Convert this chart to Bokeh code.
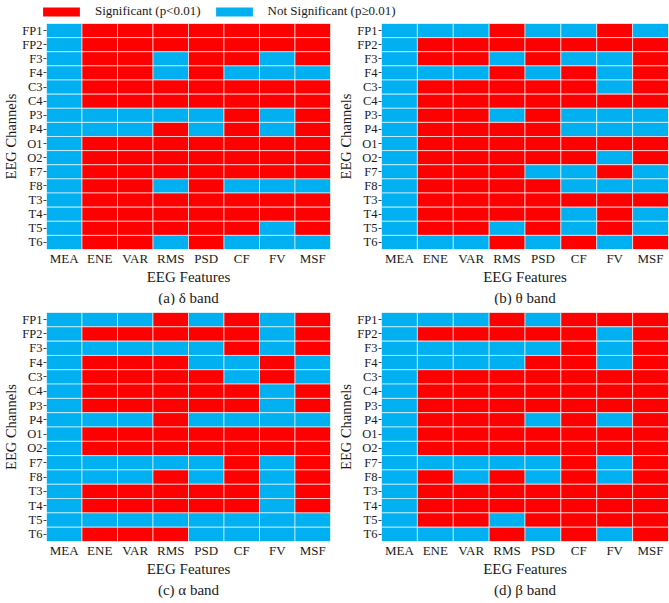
from bokeh.plotting import figure
from bokeh.models import ColumnDataSource, FactorRange, Range1d, Title, Legend, LegendItem
from bokeh.layouts import column, row
from bokeh.embed import file_html
from bokeh.resources import INLINE

features = ["MEA", "ENE", "VAR", "RMS", "PSD", "CF", "FV", "MSF"]
channels = ["FP1", "FP2", "F3", "F4", "C3", "C4", "P3", "P4",
            "O1", "O2", "F7", "F8", "T3", "T4", "T5", "T6"]

# 1 = Significant (p<0.01), 0 = Not significant
delta_band = [
    [0, 1, 1, 1, 1, 1, 1, 1],
    [0, 1, 1, 1, 1, 1, 1, 1],
    [0, 1, 1, 0, 1, 1, 0, 1],
    [0, 1, 1, 0, 1, 0, 0, 0],
    [0, 1, 1, 1, 1, 1, 1, 1],
    [0, 1, 1, 1, 1, 1, 1, 1],
    [0, 0, 0, 0, 0, 1, 0, 1],
    [0, 0, 0, 1, 0, 1, 0, 1],
    [0, 1, 1, 1, 1, 1, 1, 1],
    [0, 1, 1, 1, 1, 1, 1, 1],
    [0, 1, 1, 1, 1, 1, 1, 1],
    [0, 1, 1, 0, 1, 0, 0, 0],
    [0, 1, 1, 1, 1, 1, 1, 1],
    [0, 1, 1, 1, 1, 1, 1, 1],
    [0, 1, 1, 1, 1, 1, 0, 1],
    [0, 1, 1, 0, 1, 0, 0, 0],
]
theta_band = [
    [0, 0, 0, 1, 0, 0, 1, 0],
    [0, 1, 1, 1, 1, 1, 1, 1],
    [0, 1, 1, 0, 1, 0, 0, 1],
    [0, 0, 0, 1, 0, 1, 0, 1],
    [0, 1, 1, 1, 1, 1, 0, 1],
    [0, 1, 1, 1, 1, 1, 1, 1],
    [0, 1, 1, 0, 1, 0, 0, 0],
    [0, 1, 1, 1, 1, 0, 0, 0],
    [0, 1, 1, 1, 1, 1, 1, 1],
    [0, 1, 1, 1, 1, 1, 0, 1],
    [0, 1, 1, 1, 0, 0, 1, 0],
    [0, 1, 1, 1, 1, 0, 0, 0],
    [0, 1, 1, 1, 1, 1, 1, 1],
    [0, 1, 1, 1, 1, 0, 1, 0],
    [0, 1, 1, 0, 1, 0, 1, 0],
    [0, 0, 0, 1, 0, 1, 0, 1],
]
alpha_band = [
    [0, 0, 0, 1, 0, 1, 0, 1],
    [0, 1, 1, 1, 1, 1, 0, 1],
    [0, 0, 0, 0, 0, 1, 0, 1],
    [0, 1, 1, 1, 0, 0, 1, 0],
    [0, 1, 1, 1, 1, 0, 1, 0],
    [0, 1, 1, 1, 1, 1, 0, 1],
    [0, 1, 1, 1, 1, 1, 0, 1],
    [0, 0, 0, 1, 0, 0, 0, 0],
    [0, 1, 1, 1, 1, 1, 1, 1],
    [0, 1, 1, 1, 1, 1, 1, 1],
    [0, 0, 0, 0, 0, 1, 0, 1],
    [0, 0, 0, 1, 0, 1, 0, 1],
    [0, 1, 1, 1, 1, 1, 0, 1],
    [0, 1, 1, 1, 1, 1, 0, 1],
    [0, 0, 0, 0, 0, 0, 0, 0],
    [0, 1, 1, 1, 0, 0, 0, 0],
]
beta_band = [
    [0, 0, 0, 1, 0, 1, 1, 1],
    [0, 1, 1, 1, 1, 1, 0, 1],
    [0, 0, 0, 0, 0, 1, 0, 1],
    [0, 0, 0, 0, 1, 1, 0, 1],
    [0, 1, 1, 1, 1, 1, 1, 1],
    [0, 1, 1, 1, 1, 1, 1, 1],
    [0, 1, 1, 1, 1, 1, 1, 1],
    [0, 1, 1, 1, 0, 1, 0, 1],
    [0, 1, 1, 1, 1, 1, 1, 1],
    [0, 1, 1, 1, 1, 1, 1, 1],
    [0, 0, 0, 0, 0, 1, 0, 1],
    [0, 1, 0, 1, 0, 1, 0, 1],
    [0, 1, 1, 1, 1, 1, 1, 1],
    [0, 1, 1, 1, 1, 1, 1, 1],
    [0, 1, 1, 0, 1, 1, 1, 1],
    [0, 0, 0, 1, 0, 1, 0, 1],
]
captions = ["(a) δ band", "(b) θ band", "(c) α band", "(d) β band"]
legend_labels = ["Significant (p<0.01)", "Not Significant (p≥0.01)"]

RED = "#FF0000"
BLUE = "#00B0F0"
FONT = "'Liberation Serif', 'Times New Roman', serif"
INK = "#1a1a1a"


def make_panel(matrix, caption, width, height, left, right, top, bottom):
    xs, ys, cols = [], [], []
    for i, ch in enumerate(channels):
        for j, ft in enumerate(features):
            xs.append(ft)
            ys.append(ch)
            cols.append(RED if matrix[i][j] == 1 else BLUE)
    src = ColumnDataSource(dict(x=xs, y=ys, c=cols))
    p = figure(width=width, height=height,
               x_range=FactorRange(*features),
               y_range=FactorRange(*list(reversed(channels))),
               output_backend="svg", toolbar_location=None,
               min_border_left=left, min_border_right=right,
               min_border_top=top, min_border_bottom=bottom)
    p.rect(x="x", y="y", width=1, height=1, source=src,
           fill_color="c", line_color="white", line_alpha=0.6, line_width=1)
    p.grid.visible = False
    p.outline_line_color = None
    for ax in (p.xaxis[0], p.yaxis[0]):
        ax.axis_line_color = None
        ax.major_label_text_font = FONT
        ax.major_label_text_font_size = "13px"
        ax.major_label_text_color = INK
        ax.axis_label_text_font = FONT
        ax.axis_label_text_font_size = "15px"
        ax.axis_label_text_font_style = "normal"
        ax.axis_label_text_color = INK
    p.yaxis.major_label_text_font_size = "12.5px"
    p.yaxis.axis_label_text_font_size = "14.5px"
    p.xaxis.major_tick_line_color = None
    p.xaxis.major_tick_out = 0
    p.xaxis.major_tick_in = 0
    p.xaxis.major_label_standoff = 1
    p.xaxis.axis_label = "EEG Features"
    p.xaxis.axis_label_standoff = 0
    p.yaxis.major_tick_out = 3
    p.yaxis.major_tick_in = 0
    p.yaxis.major_tick_line_color = "#444444"
    p.yaxis.major_label_standoff = 1
    p.yaxis.axis_label = "EEG Channels"
    p.yaxis.axis_label_standoff = 0
    t = Title(text=caption, align="center", text_font=FONT,
              text_font_size="15px", text_font_style="normal",
              text_color=INK, standoff=0, offset=0)
    p.add_layout(t, "below")
    return p


pa = make_panel(delta_band, captions[0], 335, 285, 43, 5, 3, 55)
pb = make_panel(theta_band, captions[1], 334, 285, 46, 1, 3, 55)
pc = make_panel(alpha_band, captions[2], 335, 298, 43, 5, 7, 62)
pd_ = make_panel(beta_band, captions[3], 334, 298, 46, 1, 7, 62)

# legend strip (swatch glyphs parked outside the visible range)
lg = figure(width=669, height=20, x_range=Range1d(0, 1), y_range=Range1d(0, 1),
            output_backend="svg", toolbar_location=None,
            min_border=0, outline_line_color=None)
lg.axis.visible = False
lg.grid.visible = False
r1 = lg.rect(x=[-10], y=[-10], width=1, height=1, fill_color=RED, line_color=None)
r2 = lg.rect(x=[-10], y=[-10], width=1, height=1, fill_color=BLUE, line_color=None)
legend = Legend(items=[LegendItem(label=legend_labels[0], renderers=[r1]),
                       LegendItem(label=legend_labels[1], renderers=[r2])],
                orientation="horizontal", location=(38, 1),
                glyph_width=46, glyph_height=11, label_standoff=11, spacing=10,
                padding=0, margin=0, border_line_color=None,
                background_fill_alpha=0,
                label_text_font=FONT, label_text_font_size="13px",
                label_text_color=INK, label_height=14)
lg.add_layout(legend, "center")

layout = column(lg, row(pa, pb), row(pc, pd_))
open("out.html", "w").write(file_html(layout, INLINE))
